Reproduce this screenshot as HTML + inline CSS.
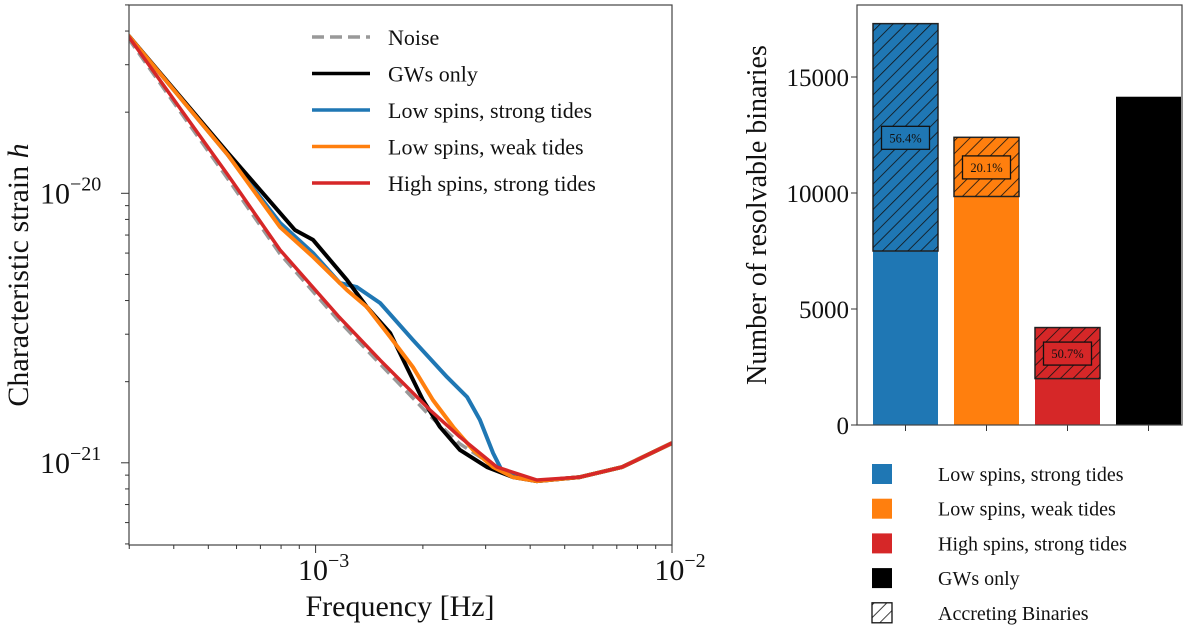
<!DOCTYPE html>
<html><head><meta charset="utf-8"><style>
body{margin:0;background:#fff}
svg text{font-family:"Liberation Serif",serif;fill:#111}
</style></head><body>
<svg id="s" width="1200" height="632" viewBox="0 0 1200 632" xmlns="http://www.w3.org/2000/svg">
<defs>
<pattern id="hatch" patternUnits="userSpaceOnUse" width="9" height="9" patternTransform="rotate(45)">
<line x1="0" y1="0" x2="0" y2="9" stroke="#111" stroke-width="1.6"/>
</pattern>
</defs>
<g id="left"></g>
<g id="right"></g>
</svg>
<script>
// ---- Left chart data (log10 frequency [Hz], log10 strain) ----
const noiseLogF=[-3.526,-3.246,-3.100,-2.937,-2.819,-2.679,-2.595,-2.491,-2.379,-2.258,-2.140,-2.000];
const noiseLogH=[-19.424,-19.947,-20.225,-20.470,-20.633,-20.826,-20.930,-21.019,-21.068,-21.053,-21.016,-20.927];
const redLogF=[-3.526,-3.246,-3.100,-2.937,-2.819,-2.679,-2.595,-2.491,-2.379];
const redLogH=[-19.416,-19.932,-20.210,-20.455,-20.619,-20.804,-20.904,-21.016,-21.064];
const blackLogF=[-3.526,-3.246,-3.058,-3.007,-2.912,-2.856,-2.791,-2.744,-2.699,-2.651,-2.595,-2.519,-2.446,-2.379];
const blackLogH=[-19.413,-19.850,-20.136,-20.173,-20.322,-20.422,-20.518,-20.645,-20.767,-20.867,-20.952,-21.016,-21.053,-21.068];
const orangeLogF=[-3.526,-3.246,-3.100,-3.007,-2.912,-2.856,-2.791,-2.727,-2.671,-2.614,-2.558,-2.502,-2.446,-2.379];
const orangeLogH=[-19.413,-19.858,-20.125,-20.236,-20.359,-20.422,-20.533,-20.645,-20.767,-20.867,-20.952,-21.016,-21.053,-21.068];
const blueLogF=[-3.526,-3.246,-3.100,-3.007,-2.932,-2.884,-2.819,-2.727,-2.631,-2.575,-2.539,-2.502,-2.474,-2.426,-2.379];
const blueLogH=[-19.413,-19.858,-20.110,-20.222,-20.333,-20.348,-20.407,-20.544,-20.682,-20.756,-20.841,-20.964,-21.038,-21.056,-21.068];
const legendLabels=["Noise","GWs only","Low spins, strong tides","Low spins, weak tides","High spins, strong tides"];
// ---- Right chart data ----
const barCategories=["Low spins, strong tides","Low spins, weak tides","High spins, strong tides","GWs only"];
const barTotals=[17300,12400,4200,14150];
const barNonAccreting=[7500,9850,2000,14150];
const barPercentLabels=["56.4%","20.1%","50.7%",""];
const barYTicks=[0,5000,10000,15000];

const NS="http://www.w3.org/2000/svg";
function mk(parent,tag,attrs,text){const e=document.createElementNS(NS,tag);for(const k in attrs)e.setAttribute(k,attrs[k]);if(text!==undefined)e.textContent=text;parent.appendChild(e);return e;}
const L=document.getElementById('left'),R=document.getElementById('right');
const AX={x0:129,x1:672,y0:5,y1:545};
const xs=lf=>315.6+(lf+3)*356.4;
const ys=lh=>193.3-(lh+20)*269.5;
const clip=mk(document.querySelector('defs'),'clipPath',{id:'lc'});mk(clip,'rect',{x:AX.x0,y:AX.y0,width:AX.x1-AX.x0,height:AX.y1-AX.y0});
const CG=mk(L,'g',{'clip-path':'url(#lc)'});
function curve(lfA,lhA,color,w,dash,name){
  const F=lfA.slice(),H=lhA.slice();
  const last=F[F.length-1];
  for(let i=0;i<noiseLogF.length;i++){if(noiseLogF[i]>last+1e-9){F.push(noiseLogF[i]);H.push(noiseLogH[i]);}}
  const d=F.map((f,i)=>(i?'L':'M')+xs(f).toFixed(1)+','+ys(H[i]).toFixed(1)).join(' ');
  const p=mk(CG,'path',{d:d,fill:'none',stroke:color,'stroke-width':w,'stroke-linejoin':'round'});
  if(dash)p.setAttribute('stroke-dasharray',dash);
  
  
}
curve(noiseLogF,noiseLogH,'#999',3.5,'12,6','noise-line');
curve(blueLogF,blueLogH,'#1f77b4',4,null,'low-spins-strong-tides-line');
curve(blackLogF,blackLogH,'#000',4,null,'gws-only-line');
curve(orangeLogF,orangeLogH,'#ff7f0e',4,null,'low-spins-weak-tides-line');
curve(redLogF,redLogH,'#d62728',3.5,null,'high-spins-strong-tides-line');
mk(L,'rect',{x:AX.x0,y:AX.y0,width:AX.x1-AX.x0,height:AX.y1-AX.y0,fill:'none',stroke:'#444','stroke-width':1.2,});
for(let dec=-4;dec<=-2;dec++)for(let m=1;m<10;m++){const lf=dec+Math.log10(m);const x=xs(lf);if(x<AX.x0-0.5||x>AX.x1+0.5)continue;
  mk(L,'line',{x1:x,x2:x,y1:AX.y1,y2:AX.y1+(m===1?8:4),stroke:'#333','stroke-width':1});}
[['−3',-3],['−2',-2]].forEach(([t,lf])=>{const g=mk(L,'text',{x:xs(lf)+8,y:580,'font-size':30,'text-anchor':'middle',});g.innerHTML='10<tspan font-size="20" dy="-13">'+t+'</tspan>';});
for(let dec=-22;dec<=-19;dec++)for(let m=1;m<10;m++){const lh=dec+Math.log10(m);const y=ys(lh);if(y<AX.y0-0.5||y>AX.y1+0.5)continue;
  mk(L,'line',{x1:AX.x0,x2:AX.x0-(m===1?8:4),y1:y,y2:y,stroke:'#333','stroke-width':1});}
[['−20',-20],['−21',-21]].forEach(([t,lh])=>{const g=mk(L,'text',{x:40,y:ys(lh)+10,'font-size':30,});g.innerHTML='10<tspan font-size="20" dy="-13">'+t+'</tspan>';});
mk(L,'text',{x:400,y:616,'font-size':30,'text-anchor':'middle',},'Frequency [Hz]');
const yt=mk(L,'text',{x:0,y:0,'font-size':30,'text-anchor':'middle',transform:'translate(28,275) rotate(-90)',});
yt.innerHTML='Characteristic strain <tspan font-style="italic">h</tspan>';
const legC=['#999','#000','#1f77b4','#ff7f0e','#d62728'];
legendLabels.forEach((t,i)=>{const y=37+i*36.5;const g=mk(L,'g',{});
  const ln=mk(g,'line',{x1:312,x2:370,y1:y,y2:y,stroke:legC[i],'stroke-width':3.5});if(i===0)ln.setAttribute('stroke-dasharray','12,6');
  mk(g,'text',{x:388,y:y+8,'font-size':22},t);});
// ---- Right chart ----
const B={x0:857,x1:1182,y0:5,y1:425};
const by=v=>425-v*(348/15000);
const bw=65,bx=i=>873+i*81;
const barC=['#1f77b4','#ff7f0e','#d62728','#000'];
barCategories.forEach((c,i)=>{const g=mk(R,'g',{});
  const x=bx(i);
  mk(g,'rect',{x:x,y:by(barNonAccreting[i]),width:bw,height:by(0)-by(barNonAccreting[i]),fill:barC[i]});
  if(barTotals[i]>barNonAccreting[i]){
    const y1=by(barTotals[i]),y2=by(barNonAccreting[i]);
    mk(g,'rect',{x:x,y:y1,width:bw,height:y2-y1,fill:barC[i],stroke:'#222','stroke-width':1.5});
    mk(g,'rect',{x:x,y:y1,width:bw,height:y2-y1,fill:'url(#hatch)'});
    if(barPercentLabels[i]){const cy=(y1+y2)/2;
      mk(g,'rect',{x:x+bw/2-24,y:cy-11,width:48,height:23,fill:barC[i],stroke:'#111','stroke-width':1.3});
      mk(g,'text',{x:x+bw/2,y:cy+5,'font-size':12.5,'text-anchor':'middle',},barPercentLabels[i]);}
  }
  mk(R,'line',{x1:x+bw/2,x2:x+bw/2,y1:B.y1,y2:B.y1+6,stroke:'#333','stroke-width':1});
});
mk(R,'rect',{x:B.x0,y:B.y0,width:B.x1-B.x0,height:B.y1-B.y0,fill:'none',stroke:'#444','stroke-width':1.2,});
barYTicks.forEach(v=>{const y=by(v);mk(R,'line',{x1:B.x0,x2:B.x0-6,y1:y,y2:y,stroke:'#333','stroke-width':1});
  mk(R,'text',{x:849,y:y+9,'font-size':25,'text-anchor':'end',},String(v));});
mk(R,'text',{x:0,y:0,'font-size':28,'text-anchor':'middle',transform:'translate(766,215) rotate(-90)',},'Number of resolvable binaries');
const legB=barCategories.concat(['Accreting Binaries']);
legB.forEach((t,i)=>{const y=474+i*34.7;const g=mk(R,'g',{});
  if(i<4)mk(g,'rect',{x:872,y:y-10,width:20,height:20,fill:barC[i]});
  else{mk(g,'rect',{x:872,y:y-10,width:20,height:20,fill:'#fff',stroke:'#111','stroke-width':1.3});mk(g,'rect',{x:872,y:y-10,width:20,height:20,fill:'url(#hatch)'});}
  mk(g,'text',{x:938,y:y+7,'font-size':20},t);});
</script>
</body></html>
